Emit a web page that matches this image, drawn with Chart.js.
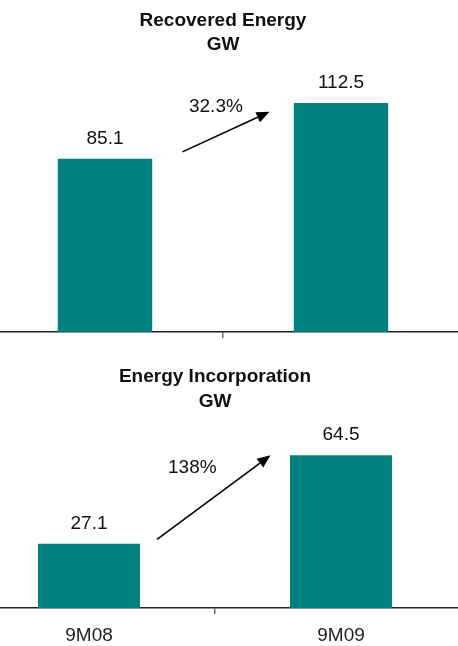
<!DOCTYPE html>
<html>
<head>
<meta charset="utf-8">
<script src="https://cdn.jsdelivr.net/npm/chart.js@4.4.1/dist/chart.umd.min.js"></script>
<style>
  html, body { margin: 0; padding: 0; background: #fff; overflow: hidden; width: 458px; height: 646px; }
  .box { position: absolute; }
  #boxTop { left: -13px; top: 0; }
  #boxBottom { left: -37px; top: 340px; }
</style>
</head>
<body>
<div class="box" id="boxTop"><canvas id="recoveredChart" width="472" height="340"></canvas></div>
<div class="box" id="boxBottom"><canvas id="incorporationChart" width="504" height="306"></canvas></div>
<script>
const periods = ['9M08', '9M09'];
const recoveredGW = [85.1, 112.5];
const incorporationGW = [27.1, 64.5];
const recoveredGrowth = '32.3%';
const incorporationGrowth = '138%';

const fonte = '"Liberation Sans", Arial, sans-serif';
const teal = '#008080';

// value labels above the bars + growth arrow (arrow given in category fraction / data units)
const rotulosPlugin = {
  id: 'rotulos',
  afterDatasetsDraw(chart, args, opts) {
    const ctx = chart.ctx;
    const meta = chart.getDatasetMeta(0);
    const data = chart.data.datasets[0].data;
    ctx.save();
    ctx.font = '19px ' + fonte;
    ctx.fillStyle = '#111';
    ctx.textAlign = 'center';
    ctx.textBaseline = 'middle';
    meta.data.forEach((bar, i) => {
      ctx.fillText(data[i].toFixed(1), bar.x, bar.y - 20.5);
    });

    const sx = chart.scales.x, sy = chart.scales.y;
    const p0 = sx.getPixelForValue(0), p1 = sx.getPixelForValue(1);
    const px = f => p0 + f * (p1 - p0);
    const x1 = px(opts.from[0]), y1 = sy.getPixelForValue(opts.from[1]);
    const x2 = px(opts.to[0]), y2 = sy.getPixelForValue(opts.to[1]);
    const ang = Math.atan2(y2 - y1, x2 - x1);
    const head = 13, half = 5.5;
    const bx = x2 - head * Math.cos(ang), by = y2 - head * Math.sin(ang);
    ctx.strokeStyle = '#000';
    ctx.lineWidth = 1.6;
    ctx.beginPath();
    ctx.moveTo(x1, y1);
    ctx.lineTo(bx, by);
    ctx.stroke();
    ctx.fillStyle = '#000';
    ctx.beginPath();
    ctx.moveTo(x2, y2);
    ctx.lineTo(bx + half * Math.sin(ang), by - half * Math.cos(ang));
    ctx.lineTo(bx - half * Math.sin(ang), by + half * Math.cos(ang));
    ctx.closePath();
    ctx.fill();

    ctx.fillStyle = '#111';
    ctx.fillText(opts.label, px(opts.text[0]), sy.getPixelForValue(opts.text[1]));
    ctx.restore();
  }
};

function criarGrafico(id, titulo, valores, yMax, barPct, tituloPad, xAltura, mostrarLabels, seta) {
  const ctx = document.getElementById(id).getContext('2d');
  return new Chart(ctx, {
    type: 'bar',
    data: {
      labels: periods,
      datasets: [{
        data: valores,
        backgroundColor: teal,
        borderWidth: 0,
        categoryPercentage: 1,
        barPercentage: barPct
      }]
    },
    options: {
      responsive: false,
      animation: false,
      layout: { padding: 0 },
      plugins: {
        legend: { display: false },
        tooltip: { enabled: false },
        title: {
          display: true,
          text: titulo,
          color: '#111',
          font: { family: fonte, size: 19, weight: 'bold', lineHeight: 1.3 },
          padding: tituloPad
        },
        rotulos: seta
      },
      scales: {
        x: {
          offset: true,
          grid: { offset: true, drawOnChartArea: false, drawTicks: true, tickLength: 6, color: '#707070', lineWidth: 1.5 },
          border: { display: true, color: '#222', width: 1.5 },
          ticks: { display: mostrarLabels, color: '#222', padding: 10, font: { family: fonte, size: 19 } },
          afterFit: s => { s.height = xAltura; }
        },
        y: { display: false, min: 0, max: yMax }
      }
    },
    plugins: [rotulosPlugin]
  });
}

criarGrafico('recoveredChart', ['Recovered Energy', 'GW'], recoveredGW, 130, 0.4,
  { top: 8, bottom: 10 }, 8, false,
  { label: recoveredGrowth, from: [0.328, 88.5], to: [0.697, 108.2], text: [0.47, 110.5] });

criarGrafico('incorporationChart', ['Energy Incorporation', 'GW'], incorporationGW, 80, 0.405,
  { top: 24.6, bottom: 4.4 }, 38, true,
  { label: incorporationGrowth, from: [0.27, 29], to: [0.72, 64.4], text: [0.41, 59] });
</script>
</body>
</html>
